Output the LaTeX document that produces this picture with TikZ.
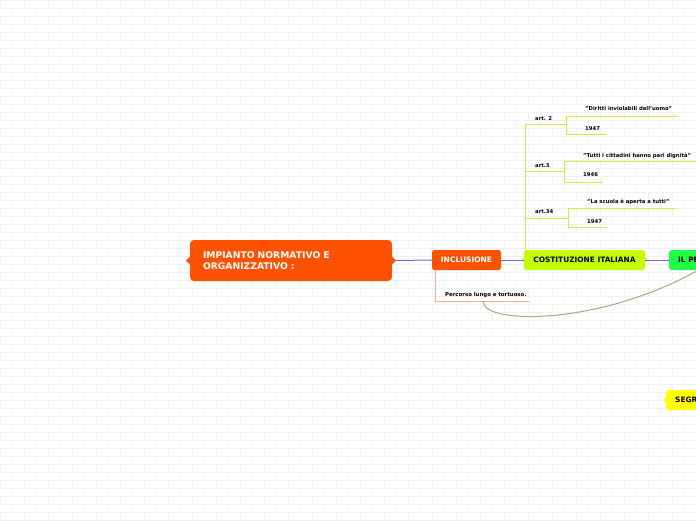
\documentclass[tikz,border=0pt]{standalone}
\usepackage{fontspec}
\setmainfont{DejaVu Sans}
\definecolor{mainorange}{HTML}{FF5200}
\definecolor{purpleline}{HTML}{8E5CE0}
\definecolor{limefill}{HTML}{C4FF00}
\definecolor{limeline}{HTML}{C8F03C}
\definecolor{greenfill}{HTML}{1EFF45}
\definecolor{yellowfill}{HTML}{FFFF00}
\definecolor{salmon}{HTML}{FFAA88}
\definecolor{curvebrown}{HTML}{B8A27E}
\definecolor{brickline}{HTML}{F0F0F0}
\tikzset{
  brick/.style={draw=brickline, line width=0.5pt},
  topicbox/.style={rounded corners=2.5pt, minimum height=20pt, inner sep=0pt, font=\bfseries\fontsize{7.4}{8}\selectfont},
  leaf/.style={anchor=west, inner sep=0pt, font=\bfseries\fontsize{5.3}{6}\selectfont},
  limeconn/.style={draw=limeline, line width=1pt},
  purpleconn/.style={draw=purpleline, line width=1pt},
}
\begin{document}
\begin{tikzpicture}[x=1pt,y=-1pt]
\useasboundingbox (0,0) rectangle (696,520);
\clip (0,0) rectangle (696,520);
\fill[white] (0,0) rectangle (696,520);
\foreach \r in {0,...,65} { \draw[brick] (0,\r*8) -- (696,\r*8); }
\foreach \r in {0,...,64} {
  \pgfmathsetmacro\off{mod(\r,2)*12}
  \foreach \c in {0,...,29} { \draw[brick] (\off+\c*24,\r*8) -- ++(0,8); }
}
% main node
\node[fill=mainorange, rounded corners=4pt, minimum width=202pt, minimum height=41pt, text width=176pt, align=left, text=white, inner xsep=13pt, font=\bfseries\fontsize{9.2}{11.5}\selectfont] (main) at (291,260.5) {IMPIANTO NORMATIVO E\\ORGANIZZATIVO :};
\fill[mainorange] (190.5,256) -- (186,260.5) -- (190.5,265) -- cycle;
\fill[mainorange] (391.5,256) -- (396,260.5) -- (391.5,265) -- cycle;
% inclusione
\node[topicbox, fill=mainorange, text=white, minimum width=69pt, font=\bfseries\fontsize{7.5}{8}\selectfont] (incl) at (466.5,260) {INCLUSIONE};
% costituzione
\node[topicbox, fill=limefill, minimum width=121pt] (cost) at (584.5,260) {COSTITUZIONE ITALIANA};
\fill[limefill] (524.5,257) -- (521.5,260) -- (524.5,263) -- cycle;
\fill[limefill] (644.5,257) -- (647.5,260) -- (644.5,263) -- cycle;
% il percorso (cut off by the picture edge)
\node[topicbox, fill=greenfill, minimum width=90pt, anchor=west] (perc) at (669,260) {};
\node[anchor=west, inner sep=0pt, font=\bfseries\fontsize{7.4}{8}\selectfont] (perct) at (678,260) {IL PE};
% segregazione (cut off by the picture edge)
\node[topicbox, fill=yellowfill, minimum width=90pt, anchor=west] (segr) at (666,400) {};
\fill[yellowfill] (666.5,397) -- (663.5,400) -- (666.5,403) -- cycle;
\node[anchor=west, inner sep=0pt, font=\bfseries\fontsize{7.4}{8}\selectfont] (segrt) at (675,400) {SEGR};
% purple connectors
\draw[purpleconn] (396,260.5) -- (incl.west);
\draw[purpleconn] (incl.east) -- (cost.west);
\draw[purpleconn] (cost.east) -- (perc.west);
% percorso lungo
\node[leaf, font=\bfseries\fontsize{5.4}{6}\selectfont] (perlungo) at (445,295.5) {Percorso lungo e tortuoso.};
\coordinate (plend) at (530,301);
\coordinate (plcorner) at (435,301);
\draw[draw=salmon, line width=1pt] (435,270) -- (plcorner) -- (plend);
% brown relation curve
\coordinate (cstart) at (483,301);
\coordinate (cend) at (712,262);
\draw[draw=curvebrown, line width=1pt] (cstart) .. controls (482,326) and (610,326) .. (cend);
% articles
\coordinate (trunktop) at (525,124);
\draw[limeconn] (525,250) -- (trunktop);
% art 2
\node[leaf] (a2) at (535,119) {art. 2};
\node[leaf] (a2q) at (585,109) {"Diritti inviolabili dell'uomo"};
\node[leaf] (a2y) at (585,129) {1947};
\coordinate (a2u) at (566,124.5);
\draw[limeconn] (525,124.5) -- (a2u);
\draw[limeconn] (678,116) -- (566,116) -- (566,134) -- (606,134);
% art 3
\node[leaf] (a3) at (535,166) {art.3};
\node[leaf] (a3q) at (583,156) {"Tutti i cittadini hanno pari dignità"};
\node[leaf] (a3y) at (583,175) {1946};
\coordinate (a3u) at (564,171.5);
\draw[limeconn] (525,171.5) -- (a3u);
\draw[limeconn] (700,161) -- (564,161) -- (564,182) -- (603,182);
% art 34
\node[leaf] (a34) at (535,212) {art.34};
\node[leaf] (a34q) at (587,202) {"La scuola è aperta a tutti"};
\node[leaf] (a34y) at (587,222) {1947};
\coordinate (a34u) at (568,218);
\draw[limeconn] (525,218) -- (a34u);
\draw[limeconn] (675,208) -- (568,208) -- (568,227) -- (607,227);
\end{tikzpicture}
\end{document}
